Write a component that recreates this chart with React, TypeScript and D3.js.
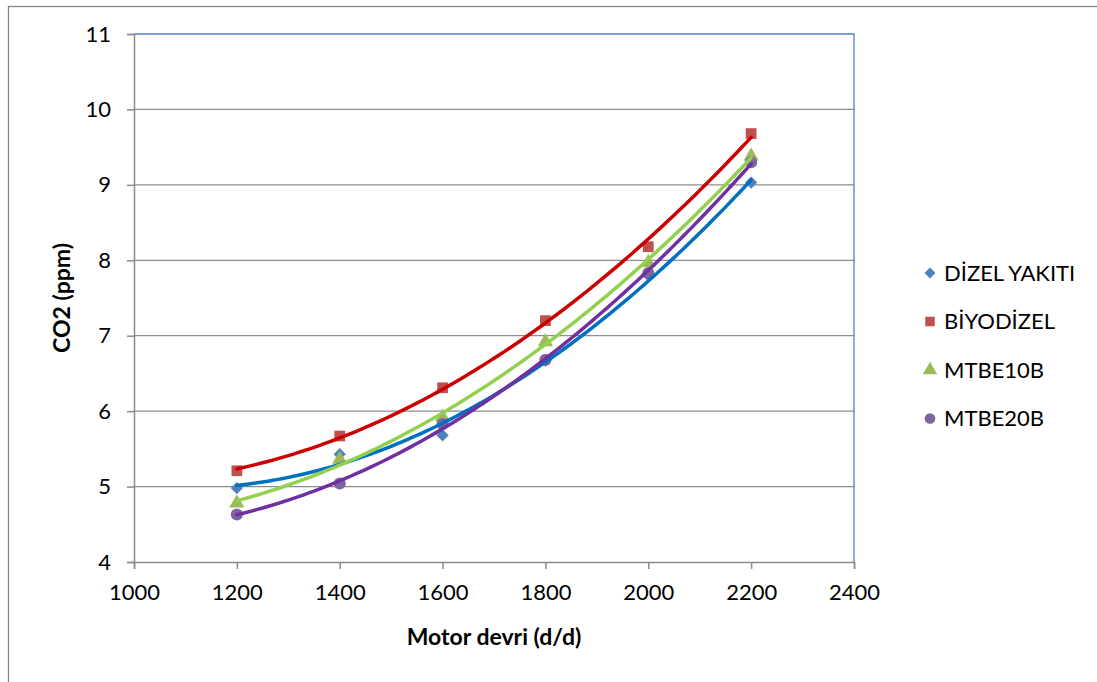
import React, { useEffect, useRef } from 'react';
import * as d3 from 'd3';

// Motor devri (d/d)
const speeds = [1200, 1400, 1600, 1800, 2000, 2200];
// CO2 values per fuel
const dizel = [4.98, 5.43, 5.68, 6.67, 7.8, 9.03];
const biyodizel = [5.21, 5.67, 6.31, 7.2, 8.18, 9.68];
const mtbe10b = [4.78, 5.36, 5.92, 6.92, 7.97, 9.38];
const mtbe20b = [4.63, 5.04, 5.83, 6.68, 7.83, 9.3];

const seriesNames = ['DİZEL YAKITI', 'BİYODİZEL', 'MTBE10B', 'MTBE20B'];
const xTicks = [1000, 1200, 1400, 1600, 1800, 2000, 2200, 2400];
const yTicks = [4, 5, 6, 7, 8, 9, 10, 11];

const markerColors = ['#4F81BD', '#C0504D', '#9BBB59', '#8064A2'];
const trendColors = ['#0070C0', '#CC0000', '#92D050', '#7030A0'];
const symbols = [d3.symbolSquare, d3.symbolSquare, d3.symbolTriangle, d3.symbolCircle];

// 2nd order least squares, like Excel's polynomial trendline
function quadFit(xs: number[], ys: number[]) {
  const n = xs.length;
  const m = d3.mean(xs) as number;
  const t = xs.map(x => (x - m) / 100);
  let s1 = 0, s2 = 0, s3 = 0, s4 = 0, sy = 0, sty = 0, stty = 0;
  t.forEach((v, i) => {
    s1 += v; s2 += v * v; s3 += v ** 3; s4 += v ** 4;
    sy += ys[i]; sty += v * ys[i]; stty += v * v * ys[i];
  });
  const A = [[n, s1, s2], [s1, s2, s3], [s2, s3, s4]];
  const b = [sy, sty, stty];
  const det = (M: number[][]) =>
    M[0][0] * (M[1][1] * M[2][2] - M[1][2] * M[2][1]) -
    M[0][1] * (M[1][0] * M[2][2] - M[1][2] * M[2][0]) +
    M[0][2] * (M[1][0] * M[2][1] - M[1][1] * M[2][0]);
  const D = det(A);
  const c = [0, 1, 2].map(k => det(A.map((row, r) => row.map((v, j) => (j === k ? b[r] : v)))) / D);
  return (x: number) => {
    const u = (x - m) / 100;
    return c[0] + c[1] * u + c[2] * u * u;
  };
}

function App() {
  const gRef = useRef<SVGGElement>(null);

  useEffect(() => {
    const g = d3.select(gRef.current);
    g.selectAll('*').remove();

    const x = d3.scaleLinear().domain([1000, 2400]).range([134, 854]);
    const y = d3.scaleLinear().domain([4, 11]).range([562, 34]);
    const font = 'Lato, "Open Sans", sans-serif';

    // chart border
    g.append('rect')
      .attr('x', 8.5).attr('y', 6.5).attr('width', 1100).attr('height', 700)
      .attr('fill', 'white').attr('stroke', '#868686').attr('stroke-width', 1.3);

    // grid
    g.selectAll('.grid').data(yTicks.slice(1, -1)).join('line')
      .attr('x1', 134).attr('x2', 854)
      .attr('y1', d => y(d)).attr('y2', d => y(d))
      .attr('stroke', '#8C8C8C').attr('stroke-width', 1.3);

    // plot area border top/right
    g.append('path')
      .attr('d', `M134,34H854V562`)
      .attr('fill', 'none').attr('stroke', '#4F81BD').attr('stroke-width', 1.3);

    // axes
    const yAxis = g.append('g').attr('transform', 'translate(134,0)')
      .call(d3.axisLeft(y).tickValues(yTicks).tickSize(7).tickPadding(16).tickFormat(d3.format('d')));
    const xAxis = g.append('g').attr('transform', 'translate(0,562)')
      .call(d3.axisBottom(x).tickValues(xTicks).tickSize(7).tickPadding(24).tickFormat(d3.format('d')));
    [yAxis, xAxis].forEach(a => {
      a.select('.domain').attr('stroke', '#8C8C8C').attr('stroke-width', 1.5);
      a.selectAll('line').attr('stroke', '#8C8C8C').attr('stroke-width', 1.5);
      a.selectAll('text').attr('font-family', font).attr('font-size', 22).attr('fill', '#000');
    });
    xAxis.selectAll('text').attr('dy', '0.32em');

    // titles
    g.append('text').attr('x', 494).attr('y', 645).attr('text-anchor', 'middle')
      .attr('font-family', font).attr('font-weight', 'bold').attr('font-size', 23)
      .text('Motor devri (d/d)');
    g.append('text').attr('transform', 'translate(70,298) rotate(-90)').attr('text-anchor', 'middle')
      .attr('font-family', font).attr('font-weight', 'bold').attr('font-size', 23)
      .text('CO2 (ppm)');

    const all = [dizel, biyodizel, mtbe10b, mtbe20b];
    const rot = (i: number) => (i === 0 ? ' rotate(45)' : '');

    // markers first, trendlines over them
    all.forEach((vals, si) => {
      g.append('g').selectAll('path').data(vals).join('path')
        .attr('transform', (d, i) => `translate(${x(speeds[i])},${y(d)})${rot(si)}`)
        .attr('d', d3.symbol().type(symbols[si]).size(si === 0 ? 75 : si === 2 ? 100 : 115)())
        .attr('fill', markerColors[si]);
    });

    const line = d3.line<number>().x(d => x(d)).curve(d3.curveLinear);
    const samples = d3.range(1200, 2200.1, 10);
    all.forEach((vals, si) => {
      const f = quadFit(speeds, vals);
      g.append('path')
        .attr('d', line.y(d => y(f(d)))(samples))
        .attr('fill', 'none').attr('stroke', trendColors[si]).attr('stroke-width', 3.5)
        .attr('stroke-linecap', 'round');
    });

    // legend
    const legend = g.append('g').attr('transform', 'translate(930,273)');
    const rows = legend.selectAll('g').data(seriesNames).join('g')
      .attr('transform', (d, i) => `translate(0,${i * 48.5})`);
    rows.append('path')
      .attr('transform', (d, i) => rot(i))
      .attr('d', (d, i) => d3.symbol().type(symbols[i]).size(i === 0 ? 60 : 90)())
      .attr('fill', (d, i) => markerColors[i]);
    rows.append('text').attr('x', 14).attr('dy', '0.36em')
      .attr('font-family', font).attr('font-size', 22).attr('fill', '#000')
      .text(d => d);
  }, []);

  return (
    <svg width={1097} height={682} style={{ position: 'absolute', left: 0, top: 0, display: 'block' }}>
      <g ref={gRef} />
    </svg>
  );
}

export default App;
